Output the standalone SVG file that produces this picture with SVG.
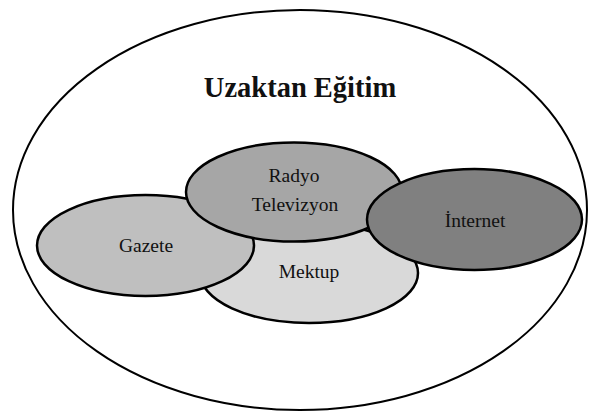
<svg xmlns="http://www.w3.org/2000/svg" width="589" height="412" viewBox="0 0 589 412">
<style>
.node{stroke:#000;stroke-width:2.5}
.lbl{font-family:"Liberation Serif","DejaVu Serif",serif;font-size:19.5px;fill:#111;text-anchor:middle}
.title{font-family:"Liberation Serif","DejaVu Serif",serif;font-size:28.5px;font-weight:bold;fill:#111;text-anchor:middle}
</style>
<rect width="589" height="412" fill="#fff"/>
<g id="uzaktan-egitim">
<ellipse cx="300" cy="210" rx="287" ry="200" fill="#fff" stroke="#000" stroke-width="2"/>
<text class="title" x="300" y="97">Uzaktan Eğitim</text>
</g>
<g id="connectors"/>
<g id="mektup">
<ellipse class="node" cx="309" cy="273" rx="109" ry="50" fill="#d9d9d9"/>
<text class="lbl" x="309" y="278">Mektup</text>
</g>
<g id="gazete">
<ellipse class="node" cx="145.5" cy="245.5" rx="108.5" ry="50.5" fill="#bfbfbf"/>
<text class="lbl" x="146" y="252">Gazete</text>
</g>
<g id="radyo-televizyon">
<ellipse class="node" cx="294" cy="192" rx="108" ry="49.5" fill="#a6a6a6"/>
<text class="lbl" x="294" y="182">Radyo</text>
<text class="lbl" x="295" y="211">Televizyon</text>
</g>
<g id="internet">
<ellipse class="node" cx="474.5" cy="219.5" rx="107.5" ry="50.5" fill="#808080"/>
<text class="lbl" x="475" y="227">İnternet</text>
</g>
</svg>
